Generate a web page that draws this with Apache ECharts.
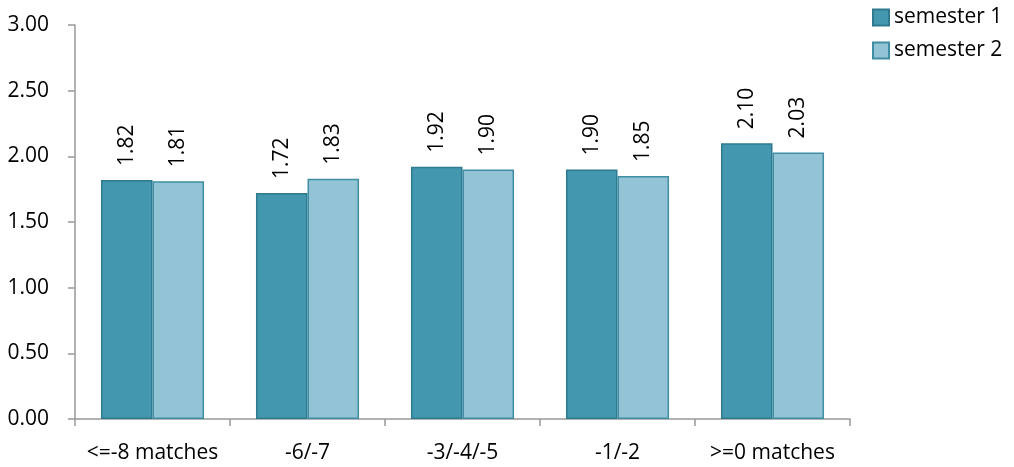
<!DOCTYPE html>
<html><head><meta charset="utf-8">
<script src="https://cdn.jsdelivr.net/npm/echarts@6/dist/echarts.min.js"></script>
<style>html,body{margin:0;padding:0;background:#fff}#c{width:1014px;height:467px}</style>
</head><body><div id="c"></div>
<script>
const categories = ['<=-8 matches', '-6/-7', '-3/-4/-5', '-1/-2', '>=0 matches'];
const semester1 = [1.82, 1.72, 1.92, 1.90, 2.10];
const semester2 = [1.81, 1.83, 1.90, 1.85, 2.03];
const seriesNames = ['semester 1', 'semester 2'];
const FONT = 'Open Sans';
const FS = 21;
const chart = echarts.init(document.getElementById('c'));
function mk(name, data, color, border) {
  return {
    name, type: 'bar', data,
    barGap: '0%', barCategoryGap: '33.5%',
    itemStyle: { color, borderColor: border, borderWidth: 1.5 },
    label: {
      show: true, position: 'top', rotate: 90, distance: 14,
      align: 'left', verticalAlign: 'middle',
      formatter: p => p.value.toFixed(2),
      fontFamily: FONT, fontSize: FS, color: '#000'
    }
  };
}
chart.setOption({
  animation: false,
  grid: { left: 75, right: 164, top: 25, bottom: 48, containLabel: false },
  legend: {
    orient: 'vertical', left: 867, top: 2, itemWidth: 16, itemHeight: 16, itemGap: 12,
    icon: 'rect',
    textStyle: { fontFamily: FONT, fontSize: FS, color: '#000' },
    data: seriesNames
  },
  xAxis: {
    type: 'category', data: categories,
    axisLine: { lineStyle: { color: '#999', width: 1.5 } },
    axisTick: { show: true, interval: 0, length: 7, lineStyle: { color: '#999', width: 1.5 } },
    axisLabel: { interval: 0, hideOverlap: false, fontFamily: FONT, fontSize: FS, color: '#000', margin: 24 }
  },
  yAxis: {
    type: 'value', min: 0, max: 3, interval: 0.5,
    splitLine: { show: false },
    axisLine: { show: true, lineStyle: { color: '#999', width: 1.5 } },
    axisTick: { show: true, length: 7, lineStyle: { color: '#999', width: 1.5 } },
    axisLabel: { fontFamily: FONT, fontSize: FS, color: '#000', margin: 26, formatter: v => v.toFixed(2) }
  },
  series: [
    mk(seriesNames[0], semester1, '#4398AF', '#2F7A8E'),
    mk(seriesNames[1], semester2, '#93C4D5', '#3F8EA4')
  ]
});
</script></body></html>
